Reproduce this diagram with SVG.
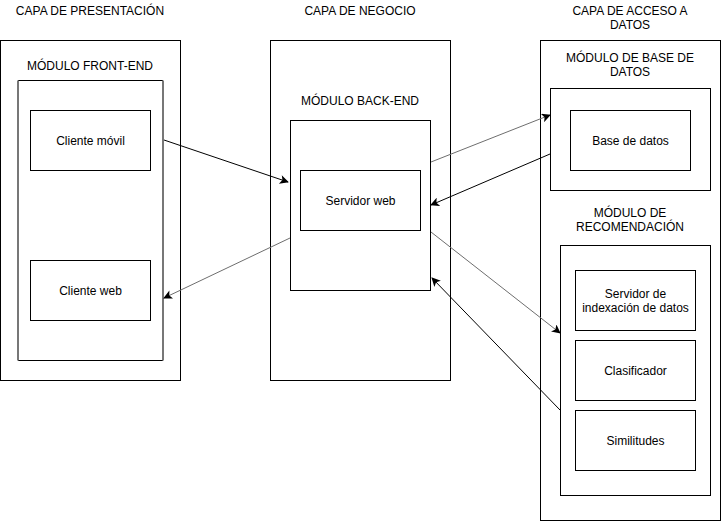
<svg xmlns="http://www.w3.org/2000/svg" width="721" height="521" viewBox="0 0 721 521">
<style>
.b{fill:#fff;stroke:#000;stroke-width:1}
.t{font-family:"Liberation Sans",Arial,sans-serif;font-size:12px;fill:#000;text-anchor:middle}
.k{stroke:#000;stroke-width:1;fill:none}
.g{stroke:#6e6e6e;stroke-width:1;fill:none}
</style>
<defs>
<marker id="ak" viewBox="0 0 10 10" refX="9" refY="5" markerWidth="10" markerHeight="9" orient="auto" markerUnits="userSpaceOnUse"><path d="M0,0 L10,5 L0,10 L2.5,5 Z" fill="#000"/></marker>
<marker id="ag" viewBox="0 0 10 10" refX="9" refY="5" markerWidth="10" markerHeight="9" orient="auto" markerUnits="userSpaceOnUse"><path d="M0,0 L10,5 L0,10 L2.5,5 Z" fill="#000"/></marker>
</defs>
<rect width="721" height="521" fill="#fff"/>
<g id="capa-presentacion">
<rect class="b" x="0.5" y="40.5" width="180" height="340"/>
<text class="t" x="90" y="15">CAPA DE PRESENTACIÓN</text>
</g>
<g id="modulo-front-end">
<rect x="18" y="80.5" width="145" height="280" fill="#fff" stroke="none"/>
<line x1="18" y1="80.5" x2="163" y2="80.5" stroke="#000"/>
<line x1="18" y1="360.5" x2="163" y2="360.5" stroke="#000"/>
<line x1="18" y1="80.5" x2="18" y2="360.5" stroke="#777" stroke-width="2"/>
<line x1="163" y1="80.5" x2="163" y2="360.5" stroke="#777" stroke-width="2"/>
<text class="t" x="90" y="70">MÓDULO FRONT-END</text>
</g>
<g id="cliente-movil">
<rect class="b" x="30.5" y="110.5" width="120" height="60"/>
<text class="t" x="90.5" y="144.5">Cliente móvil</text>
</g>
<g id="cliente-web">
<rect class="b" x="30.5" y="260.5" width="120" height="60"/>
<text class="t" x="90.5" y="294.5">Cliente web</text>
</g>
<g id="capa-negocio">
<rect class="b" x="270.5" y="40.5" width="180" height="340"/>
<text class="t" x="360" y="15">CAPA DE NEGOCIO</text>
<text class="t" x="360" y="105">MÓDULO BACK-END</text>
</g>
<g id="modulo-back-end">
<rect class="b" x="290.5" y="120.5" width="140" height="170"/>
</g>
<g id="servidor-web">
<rect class="b" x="300.5" y="170.5" width="120" height="60"/>
<text class="t" x="360.5" y="204.5">Servidor web</text>
</g>
<g id="capa-datos">
<rect class="b" x="540.5" y="40.5" width="180" height="480"/>
<text class="t" x="630" y="15">CAPA DE ACCESO A</text>
<text class="t" x="630" y="29">DATOS</text>
<text class="t" x="630" y="62">MÓDULO DE BASE DE</text>
<text class="t" x="630" y="76">DATOS</text>
<text class="t" x="630" y="217">MÓDULO DE</text>
<text class="t" x="630" y="231">RECOMENDACIÓN</text>
</g>
<g id="modulo-base-datos">
<rect class="b" x="550.5" y="88.5" width="160" height="102"/>
</g>
<g id="base-de-datos">
<rect class="b" x="570.5" y="110.5" width="120" height="60"/>
<text class="t" x="630.5" y="144.5">Base de datos</text>
</g>
<g id="modulo-recomendacion">
<rect class="b" x="560.5" y="245.5" width="150" height="250"/>
</g>
<g id="servidor-indexacion">
<rect class="b" x="575.5" y="270.5" width="120" height="60"/>
<text class="t" x="635.5" y="297.5">Servidor de</text>
<text class="t" x="635.5" y="311.5">indexación de datos</text>
</g>
<g id="clasificador">
<rect class="b" x="575.5" y="340.5" width="120" height="60"/>
<text class="t" x="635.5" y="374.5">Clasificador</text>
</g>
<g id="similitudes">
<rect class="b" x="575.5" y="410.5" width="120" height="60"/>
<text class="t" x="635.5" y="444.5">Similitudes</text>
</g>
<g id="connectors">
<line class="k" x1="164" y1="140" x2="288" y2="182" marker-end="url(#ak)"/>
<line class="g" x1="290" y1="238" x2="164" y2="298" marker-end="url(#ag)"/>
<line class="g" x1="431" y1="162" x2="550" y2="115" marker-end="url(#ag)"/>
<line class="k" x1="550" y1="154" x2="431" y2="205" marker-end="url(#ak)"/>
<line class="g" x1="431" y1="232" x2="560" y2="333" marker-end="url(#ag)"/>
<line class="k" x1="560" y1="410" x2="432" y2="278" marker-end="url(#ak)"/>
</g>
</svg>
